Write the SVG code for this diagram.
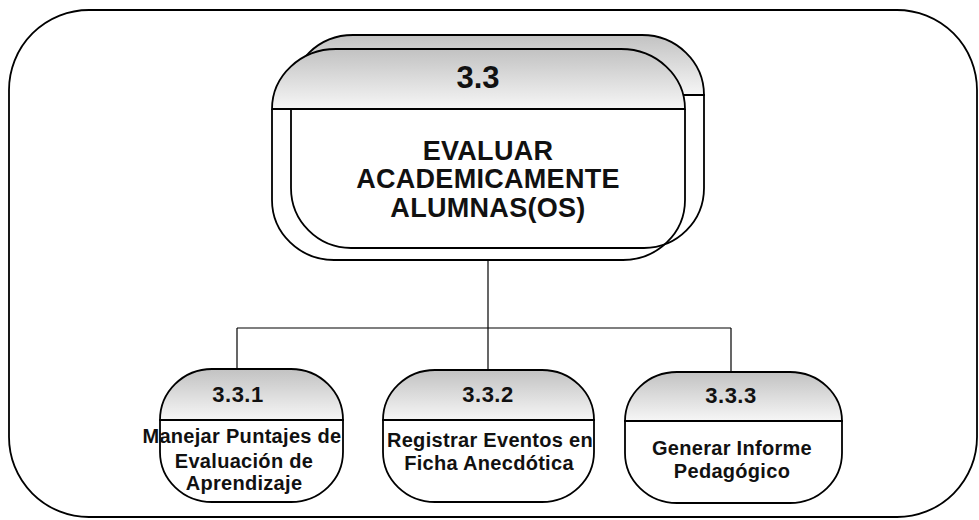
<svg xmlns="http://www.w3.org/2000/svg" width="979" height="520" viewBox="0 0 979 520">
<defs>
<linearGradient id="hg" x1="0" y1="0" x2="0" y2="1">
<stop offset="0" stop-color="#c2c2c2"/>
<stop offset="1" stop-color="#f6f6f6"/>
</linearGradient>
<style>
.o{fill:none;stroke:#000;stroke-width:1.8}
.h{fill:url(#hg);stroke:#000;stroke-width:1.8}
.b{fill:#fff;stroke:#000;stroke-width:1.8}
.c{fill:none;stroke:#000;stroke-width:1.2}
text{font-family:"Liberation Sans",Arial,sans-serif;font-weight:bold;fill:#111;text-anchor:middle}
.big{font-size:31px}
.mid{font-size:27px;letter-spacing:0.3px}
.num{font-size:22px;letter-spacing:0.5px}
.sm{font-size:20px;letter-spacing:0.3px}
</style>
</defs>
<rect class="o" x="9" y="10" width="968" height="507" rx="80" ry="80"/>
<g id="connectors">
<line class="c" x1="488" y1="260" x2="488" y2="328"/>
<line class="c" x1="237" y1="328" x2="731" y2="328"/>
<line class="c" x1="237" y1="328" x2="237" y2="369"/>
<line class="c" x1="488" y1="328" x2="488" y2="370"/>
<line class="c" x1="731" y1="328" x2="731" y2="372"/>
</g>
<g id="n3_3">
<path class="b" d="M291,95 V188 A60,60 0 0 0 351,248 H644 A60,60 0 0 0 704,188 V95 Z"/>
<path class="h" d="M291,95 A62,60 0 0 1 353,35 H642 A62,60 0 0 1 704,95 Z"/>
<path class="h" d="M272,109 A64,60 0 0 1 336,49 H621 A64,60 0 0 1 685,109 Z"/>
<path class="o" d="M272,109 V200 A62,60 0 0 0 334,260 H623 A62,60 0 0 0 685,200 V109"/>
<text class="big" x="478" y="88">3.3</text>
<text class="mid" x="488" y="160">EVALUAR</text>
<text class="mid" x="488" y="188">ACADEMICAMENTE</text>
<text class="mid" x="488" y="217">ALUMNAS(OS)</text>
</g>
<g id="n3_3_1">
<path class="h" d="M160,420 A52,51 0 0 1 212,369 H291 A52,51 0 0 1 343,420 Z"/>
<path class="b" d="M160,420 V452 A52,50 0 0 0 212,502 H291 A52,50 0 0 0 343,452 V420 Z"/>
<text class="num" x="238" y="402">3.3.1</text>
<text class="sm" x="242" y="443">Manejar Puntajes de</text>
<text class="sm" x="244" y="468">Evaluación de</text>
<text class="sm" x="244" y="490">Aprendizaje</text>
</g>
<g id="n3_3_2">
<path class="h" d="M383,420 A52,50 0 0 1 435,370 H542 A52,50 0 0 1 594,420 Z"/>
<path class="b" d="M383,420 V452 A52,50 0 0 0 435,502 H542 A52,50 0 0 0 594,452 V420 Z"/>
<text class="num" x="488" y="402">3.3.2</text>
<text class="sm" x="490" y="447">Registrar Eventos en</text>
<text class="sm" x="489" y="470">Ficha Anecdótica</text>
</g>
<g id="n3_3_3">
<path class="h" d="M625,421 A52,49 0 0 1 677,372 H790 A52,49 0 0 1 842,421 Z"/>
<path class="b" d="M625,421 V453 A52,50 0 0 0 677,503 H790 A52,50 0 0 0 842,453 V421 Z"/>
<text class="num" x="731" y="403">3.3.3</text>
<text class="sm" x="732" y="455">Generar Informe</text>
<text class="sm" x="732" y="478">Pedagógico</text>
</g>
</svg>
